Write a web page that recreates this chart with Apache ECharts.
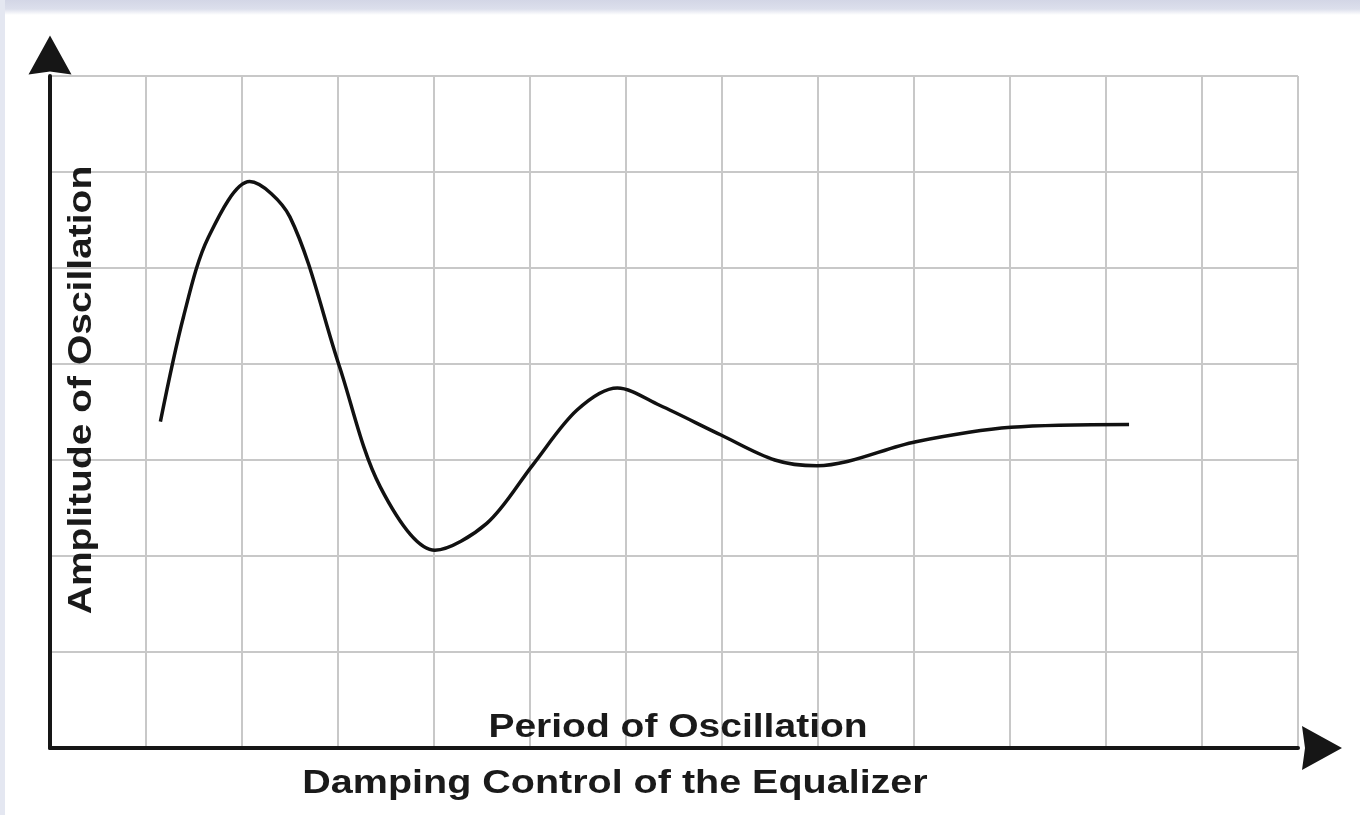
<!DOCTYPE html>
<html>
<head>
<meta charset="utf-8">
<script src="https://cdn.jsdelivr.net/npm/echarts@6/dist/echarts.min.js"></script>
<style>
  html, body { margin: 0; padding: 0; background: #fff; }
  #main { width: 1360px; height: 815px; }
</style>
</head>
<body>
<div id="main"></div>
<script>
// curve, in grid units (one unit = one grid cell)
const periodX = [1.15, 1.39, 1.65, 2.08, 2.5, 3.01, 3.44, 4.01, 4.55, 5.03, 5.49, 5.91, 6.35, 6.99, 7.55, 7.99, 9.02, 10.01, 11.24]
const amplitudeY = [3.4, 4.49, 5.32, 5.9, 5.53, 3.99, 2.72, 2.06, 2.34, 2.95, 3.52, 3.75, 3.57, 3.26, 3.0, 2.94, 3.19, 3.34, 3.37]

const xCells = 13
const yCells = 7

const yTitle = 'Amplitude of Oscillation'
const xTitle1 = 'Period of Oscillation'
const xTitle2 = 'Damping Control of the Equalizer'

const chartDom = document.getElementById('main')
let myChart = echarts.init(chartDom)

const curve = periodX.map((x, i) => [x, amplitudeY[i]])

const arrowPath = 'path://M0,40 L22,0 L44,40 L22,37 Z'
const gridLine = { show: true, lineStyle: { color: '#c8c8c8', width: 2 } }
const labelFont = 'bold 39px "Liberation Sans", Arial, sans-serif'

let option = {
  backgroundColor: '#ffffff',
  animation: false,
  grid: { left: 50, right: 62, top: 76, bottom: 67 },
  xAxis: {
    type: 'value',
    min: 0,
    max: xCells,
    interval: 1,
    axisLabel: { show: false },
    axisTick: { show: false },
    splitLine: gridLine,
    axisLine: {
      show: true,
      symbol: ['none', arrowPath],
      symbolSize: [44, 42],
      symbolOffset: [0, 24],
      lineStyle: { color: '#161616', width: 4 }
    }
  },
  yAxis: {
    type: 'value',
    min: 0,
    max: yCells,
    interval: 1,
    axisLabel: { show: false },
    axisTick: { show: false },
    splitLine: gridLine,
    axisLine: {
      show: true,
      symbol: ['none', arrowPath],
      symbolSize: [43, 40],
      symbolOffset: [0, 21],
      lineStyle: { color: '#161616', width: 4 }
    }
  },
  graphic: [
    {
      type: 'rect', left: 0, top: 0, z: -1,
      shape: { width: 1360, height: 15 },
      style: {
        fill: new echarts.graphic.LinearGradient(0, 0, 0, 1, [
          { offset: 0, color: '#d3d6e6' },
          { offset: 0.6, color: '#dcdfec' },
          { offset: 1, color: '#ffffff' }
        ])
      }
    },
    {
      type: 'rect', left: 0, top: 0, z: -1,
      shape: { width: 5, height: 815 },
      style: { fill: '#e4e7f1' }
    },
    {
      type: 'text', x: 82, y: 390, rotation: Math.PI / 2, scaleY: 0.85, z: 100,
      style: { text: yTitle, font: labelFont, fill: '#1a1a1a', align: 'center', verticalAlign: 'middle' }
    },
    {
      type: 'text', x: 678, y: 728, scaleY: 0.85, z: 100,
      style: { text: xTitle1, font: labelFont, fill: '#1a1a1a', align: 'center', verticalAlign: 'middle' }
    },
    {
      type: 'text', x: 615, y: 784, scaleY: 0.85, z: 100,
      style: { text: xTitle2, font: 'bold 39.5px "Liberation Sans", Arial, sans-serif', fill: '#1a1a1a', align: 'center', verticalAlign: 'middle' }
    }
  ],
  series: [{
    type: 'line',
    data: curve,
    smooth: 0.32,
    showSymbol: false,
    lineStyle: { color: '#111111', width: 3.5 }
  }]
}

option && myChart.setOption(option)
</script>
</body>
</html>
